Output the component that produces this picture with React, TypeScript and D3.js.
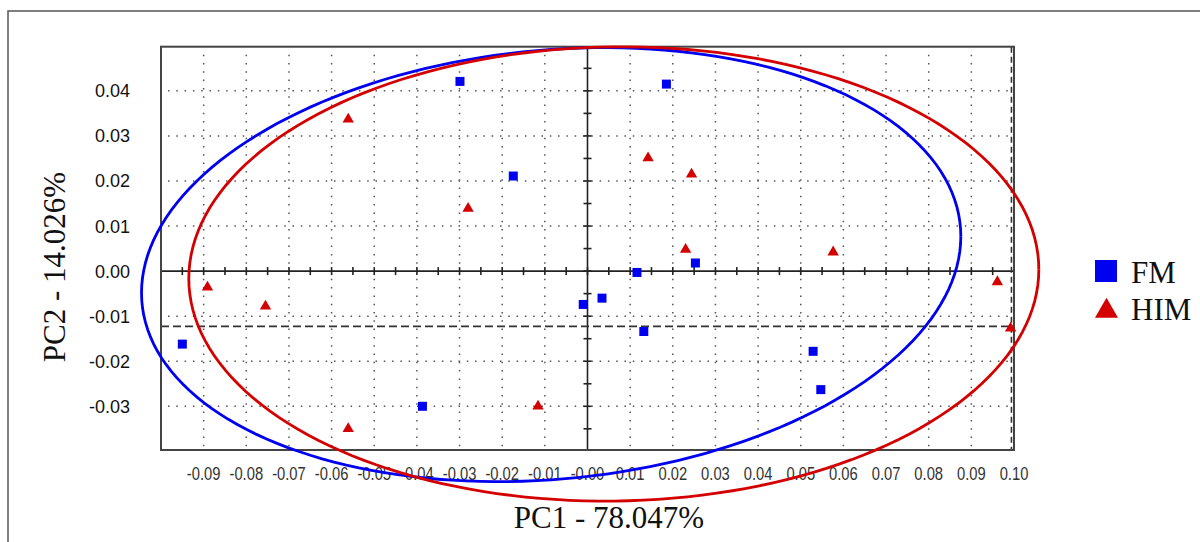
import React from 'react';
import * as d3 from 'd3';

// PCA scores
const fmX = [-0.0299, 0.0185, -0.0174, 0.0253, 0.0116, 0.0034, -0.0010, 0.0132, -0.0387, -0.0950, 0.0529, 0.0547];
const fmY = [0.0421, 0.0415, 0.0211, 0.0018, -0.0003, -0.0060, -0.0074, -0.0134, -0.0300, -0.0162, -0.0178, -0.0263];
const himX = [-0.0561, 0.0142, 0.0244, -0.0280, 0.0230, 0.0576, 0.0961, 0.0992, -0.0891, -0.0755, -0.0561, -0.0116];
const himY = [0.0337, 0.0251, 0.0215, 0.0139, 0.0048, 0.0042, -0.0024, -0.0127, -0.0036, -0.0078, -0.0350, -0.0300];

// confidence ellipses: center, half extents, correlation
const ellipseNames = ['FM', 'HIM'];
const ellipseCx = [-0.00852, 0.00617];
const ellipseCy = [0.00144, -0.00063];
const ellipseW = [0.09605, 0.09965];
const ellipseH = [0.04816, 0.05041];
const ellipseRho = [0.13, 0.02];

const xTicks = [-0.09, -0.08, -0.07, -0.06, -0.05, -0.04, -0.03, -0.02, -0.01, 0, 0.01, 0.02, 0.03, 0.04, 0.05, 0.06, 0.07, 0.08, 0.09, 0.10];
const xTickLabels = ['-0.09', '-0.08', '-0.07', '-0.06', '-0.05', '-0.04', '-0.03', '-0.02', '-0.01', '-0.00', '0.01', '0.02', '0.03', '0.04', '0.05', '0.06', '0.07', '0.08', '0.09', '0.10'];
const yTicks = [0.04, 0.03, 0.02, 0.01, 0, -0.01, -0.02, -0.03];
const yTickLabels = ['0.04', '0.03', '0.02', '0.01', '0.00', '-0.01', '-0.02', '-0.03'];
const xGrid = [-0.09, -0.08, -0.07, -0.06, -0.05, -0.04, -0.03, -0.02, -0.01, 0.01, 0.02, 0.03, 0.04, 0.05, 0.06, 0.07, 0.08, 0.09];
const yGrid = [0.04, 0.03, 0.02, 0.01, -0.01, -0.02, -0.03];
const minorTicksX = d3.range(-0.095, 0.1, 0.005);
const minorTicksY = d3.range(-0.035, 0.05, 0.005);
const limitY = -0.01226;
const limitX = 0.0994;

const BLUE = '#0000f0';
const RED = '#d40000';

export default function App() {
  const left = 161, right = 1014, top = 46.7, bottom = 450;
  const x = d3.scaleLinear().domain([-0.1, 0.1]).range([left, right]);
  const y = d3.scaleLinear().domain([-0.0397, 0.0498]).range([bottom, top]);

  const ellipsePath = (i) => {
    const pts = d3.range(0, 361, 2).map((deg) => {
      const t = (deg * Math.PI) / 180;
      const r = ellipseRho[i];
      return [
        x(ellipseCx[i] + ellipseW[i] * Math.cos(t)),
        y(ellipseCy[i] + ellipseH[i] * (r * Math.cos(t) + Math.sqrt(1 - r * r) * Math.sin(t))),
      ];
    });
    return d3.line()(pts);
  };

  const square = d3.symbol(d3.symbolSquare, 81)();
  const tri = d3.symbol(d3.symbolTriangle, 56)();
  const squareBig = d3.symbol(d3.symbolSquare, 484)();
  const triBig = d3.symbol(d3.symbolTriangle, 230)();

  return (
    <svg width={1200} height={542} style={{ position: 'absolute', left: 0, top: 0, background: '#fff' }}>
      <rect x={8} y={11} width={1200} height={600} fill="none" stroke="#555" strokeWidth={1.5} />

      {/* dotted grid */}
      {xGrid.map((v) => (
        <line key={'gx' + v} x1={x(v)} x2={x(v)} y1={top + 8} y2={bottom} stroke="#555" strokeWidth={1.5} strokeDasharray="1.5,6.8" />
      ))}
      {yGrid.map((v) => (
        <line key={'gy' + v} x1={left + 7} x2={right} y1={y(v)} y2={y(v)} stroke="#555" strokeWidth={1.5} strokeDasharray="1.5,6.8" />
      ))}

      {/* zero axes with ticks */}
      <line x1={left} x2={right} y1={y(0)} y2={y(0)} stroke="#222" strokeWidth={1.6} />
      <line x1={x(0)} x2={x(0)} y1={top} y2={bottom} stroke="#222" strokeWidth={1.6} />
      {minorTicksX.map((v) => (
        <line key={'tx' + v} x1={x(v)} x2={x(v)} y1={y(0) - 4} y2={y(0) + 4} stroke="#222" strokeWidth={1.6} />
      ))}
      {minorTicksY.map((v) => (
        <line key={'ty' + v} x1={x(0) - 4} x2={x(0) + 4} y1={y(v)} y2={y(v)} stroke="#222" strokeWidth={1.6} />
      ))}

      {/* limit lines */}
      <line x1={left} x2={right} y1={y(limitY)} y2={y(limitY)} stroke="#333" strokeWidth={1.6} strokeDasharray="8,4" />
      <line x1={x(limitX)} x2={x(limitX)} y1={top} y2={bottom} stroke="#333" strokeWidth={1.6} strokeDasharray="6,4" />

      <rect x={left} y={top} width={right - left} height={bottom - top} fill="none" stroke="#444" strokeWidth={2} />

      {/* tick labels */}
      {xTicks.map((v, i) => (
        <text key={'lx' + i} transform={`translate(${x(v)},480) scale(0.82,1)`} textAnchor="middle"
          fontFamily="Liberation Sans, Arial, sans-serif" fontSize={18} fill="#333">{xTickLabels[i]}</text>
      ))}
      {yTicks.map((v, i) => (
        <text key={'ly' + i} x={130} y={y(v) + 6.5} textAnchor="end"
          fontFamily="Liberation Sans, Arial, sans-serif" fontSize={18} fill="#111">{yTickLabels[i]}</text>
      ))}

      {/* ellipses */}
      <path d={ellipsePath(0)} fill="none" stroke={BLUE} strokeWidth={2.8} />
      <path d={ellipsePath(1)} fill="none" stroke={RED} strokeWidth={2.8} />

      {/* points */}
      {fmX.map((v, i) => (
        <path key={'fm' + i} d={square} transform={`translate(${x(v)},${y(fmY[i])})`} fill={BLUE} />
      ))}
      {himX.map((v, i) => (
        <path key={'him' + i} d={tri} transform={`translate(${x(v)},${y(himY[i])})`} fill={RED} />
      ))}

      {/* axis titles */}
      <text x={609} y={528} textAnchor="middle" fontFamily="Liberation Serif, Times New Roman, serif" fontSize={31} fill="#111">PC1 - 78.047%</text>
      <text transform="translate(65,267) rotate(-90)" textAnchor="middle" fontFamily="Liberation Serif, Times New Roman, serif" fontSize={31} fill="#111">PC2 - 14.026%</text>

      {/* legend */}
      <path d={squareBig} transform="translate(1106,271)" fill={BLUE} />
      <text x={1131} y={283} fontFamily="Liberation Serif, Times New Roman, serif" fontSize={31} fill="#111">{ellipseNames[0]}</text>
      <path d={triBig} transform="translate(1106.5,311)" fill={RED} />
      <text x={1131} y={320} fontFamily="Liberation Serif, Times New Roman, serif" fontSize={31} fill="#111">{ellipseNames[1]}</text>
    </svg>
  );
}
